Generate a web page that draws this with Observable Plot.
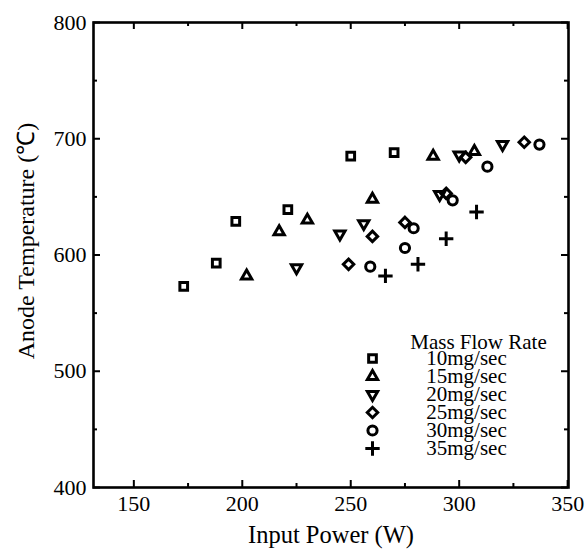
<!DOCTYPE html>
<html><head><meta charset="utf-8">
<script src="https://cdn.jsdelivr.net/npm/d3@7"></script>
<script src="https://cdn.jsdelivr.net/npm/@observablehq/plot@0.6"></script>
<style>html,body{margin:0;padding:0;background:#fff}svg{display:block}</style>
</head><body><div id="chart"></div>
<script>
// ---- data ----
const series = ["10mg/sec","15mg/sec","20mg/sec","25mg/sec","30mg/sec","35mg/sec"];
const power10 = [173, 188, 197, 221, 250, 270];
const temp10  = [573, 593, 629, 639, 685, 688];
const power15 = [202, 217, 230, 260, 288, 307];
const temp15  = [582, 620, 630, 648, 685, 689];
const power20 = [225, 245, 256, 291, 300, 320];
const temp20  = [589, 618, 627, 652, 686, 695];
const power25 = [249, 260, 275, 294, 303, 330];
const temp25  = [592, 616, 628, 653, 684, 697];
const power30 = [259, 275, 279, 297, 313, 337];
const temp30  = [590, 606, 623, 647, 676, 695];
const power35 = [266, 281, 294, 308];
const temp35  = [582, 592, 614, 637];
const xTicks = [150, 200, 250, 300, 350];
const xMinor = [175, 225, 275, 325];
const yTicks = [400, 500, 600, 700, 800];
const yMinor = [450, 550, 650, 750];
const xLabel = "Input Power (W)";
const yLabel = "Anode Temperature (℃)";
const legendTitle = "Mass Flow Rate";

// ---- styling ----
const font = "'Liberation Serif', 'Times New Roman', serif";
const W = 586, H = 550;
const mL = 93, mR = 18, mT = 22, mB = 63;
const frameW = W - mL - mR, frameH = H - mT - mB;
const triangleDown = {
  draw(ctx, size) {
    const s = Math.sqrt(size) * 0.6824, t = s / 2, u = s * Math.sqrt(3) / 2;
    ctx.moveTo(0, s); ctx.lineTo(u, -t); ctx.lineTo(-u, -t); ctx.closePath();
  }
};
const groups = [
  {x: power10, y: temp10, symbol: "square2", r: 4.9},
  {x: power15, y: temp15, symbol: "triangle2", r: 4.9},
  {x: power20, y: temp20, symbol: triangleDown, r: 4.9},
  {x: power25, y: temp25, symbol: "diamond2", r: 4.7},
  {x: power30, y: temp30, symbol: "circle", r: 4.6},
  {x: power35, y: temp35, symbol: "plus", r: 4.7}
];
const dotStyle = {stroke: "black", fill: "none", strokeWidth: 3};

const marks = [];
// inward ticks on all four sides
const tk = (len) => frameH - len, tkx = (len) => frameW - len;
marks.push(Plot.tickX(xTicks, {x: d => d, insetTop: tk(7), strokeWidth: 2}));
marks.push(Plot.tickX(xMinor, {x: d => d, insetTop: tk(4), strokeWidth: 2}));
marks.push(Plot.tickX(xTicks, {x: d => d, insetBottom: tk(7), strokeWidth: 2}));
marks.push(Plot.tickX(xMinor, {x: d => d, insetBottom: tk(4), strokeWidth: 2}));
marks.push(Plot.tickY(yTicks, {y: d => d, insetRight: tkx(7), strokeWidth: 2}));
marks.push(Plot.tickY(yMinor, {y: d => d, insetRight: tkx(4), strokeWidth: 2}));
marks.push(Plot.tickY(yTicks, {y: d => d, insetLeft: tkx(7), strokeWidth: 2}));
marks.push(Plot.tickY(yMinor, {y: d => d, insetLeft: tkx(4), strokeWidth: 2}));
marks.push(Plot.frame({stroke: "black", strokeWidth: 2.6}));
marks.push(Plot.axisX({ticks: xTicks, anchor: "bottom", tickSize: 0, tickPadding: 8, fontSize: 22, label: null, fontFamily: font}));
marks.push(Plot.axisY({ticks: yTicks, anchor: "left", tickSize: 0, tickPadding: 7, fontSize: 22, label: null, fontFamily: font}));
marks.push(Plot.text([xLabel], {frameAnchor: "bottom", dy: 48, lineAnchor: "middle", textAnchor: "middle", fontSize: 24.5, text: d => d, fontFamily: font}));
marks.push(Plot.text([yLabel], {frameAnchor: "left", dx: -67, dy: -14, rotate: -90, lineAnchor: "middle", textAnchor: "middle", fontSize: 24, text: d => d, fontFamily: font}));

// data points
groups.forEach(g => {
  const data = g.x.map((x, i) => ({x, y: g.y[i]}));
  marks.push(Plot.dot(data, {x: "x", y: "y", symbol: g.symbol, r: g.r, ...dotStyle}));
});

// legend inside the frame
marks.push(Plot.text([legendTitle], {frameAnchor: "top-left", dx: 385, dy: 320, text: d => d, fontSize: 21, fontFamily: font, lineAnchor: "middle", textAnchor: "middle"}));
series.forEach((s, i) => {
  const g = groups[i];
  marks.push(Plot.dot([s], {frameAnchor: "top-left", dx: 279, dy: 336 + 18 * i, symbol: g.symbol, r: g.r, ...dotStyle}));
  marks.push(Plot.text([s], {frameAnchor: "top-left", dx: 373, dy: 336 + 18 * i, text: d => d, fontSize: 21, fontFamily: font, lineAnchor: "middle", textAnchor: "middle"}));
});

const chart = Plot.plot({
  width: W, height: H,
  marginLeft: mL, marginRight: mR, marginTop: mT, marginBottom: mB,
  style: {fontFamily: font, background: "white", color: "black"},
  x: {domain: [131.4, 350.4]},
  y: {domain: [400, 800]},
  marks
});
document.getElementById("chart").appendChild(chart);
</script>
</body></html>
